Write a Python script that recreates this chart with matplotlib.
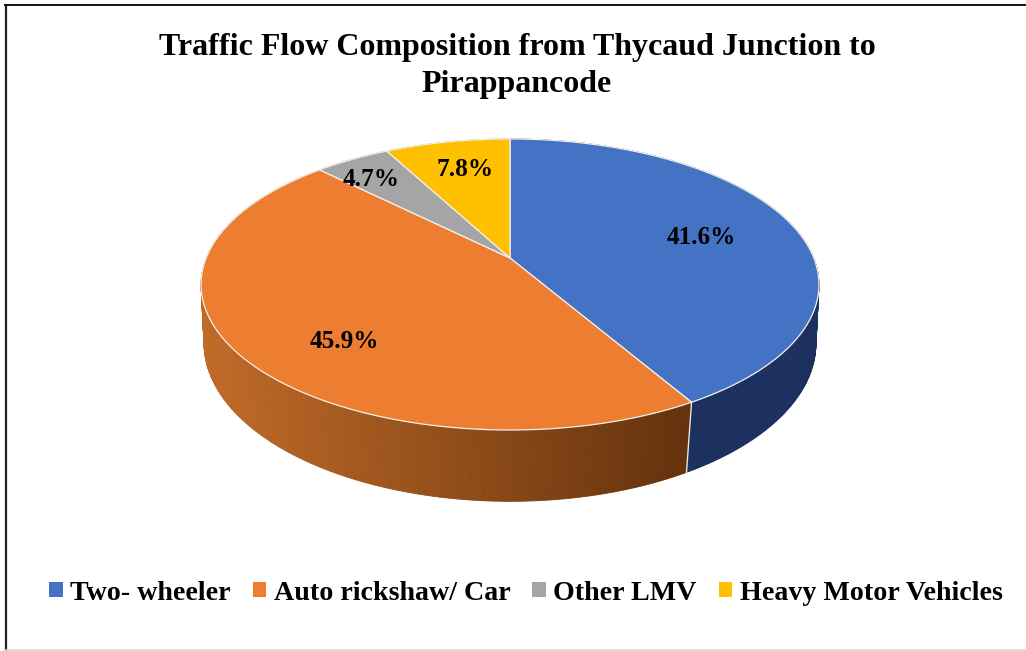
import numpy as np
import matplotlib
matplotlib.use("Agg")
import matplotlib.pyplot as plt
from matplotlib.patches import Patch

title = "Traffic Flow Composition from Thycaud Junction to\nPirappancode"
categories = ["Two- wheeler", "Auto rickshaw/ Car", "Other LMV", "Heavy Motor Vehicles"]
shares = [41.6, 45.9, 4.7, 7.8]
colors = ["#4472C4", "#ED7D31", "#A5A5A5", "#FFC000"]
wall_left = ["#1C3060", "#C06A28", "#6A6A6A", "#A07800"]
wall_right = ["#1C3060", "#63320C", "#6A6A6A", "#A07800"]
label_pos = [(701, 238), (344, 342), (371, 179), (465, 169)]

plt.rcParams["font.family"] = ["Liberation Serif", "DejaVu Serif"]

W, H = 1026, 651
fig = plt.figure(figsize=(W / 100, H / 100), dpi=100)
ax = fig.add_axes([0, 0, 1, 1])
ax.set_xlim(0, W)
ax.set_ylim(H, 0)
ax.axis("off")


def project(theta, cy=258.0, a=303.8, b=140.7, k=0.182):
    # circle on a tilted plane -> screen, theta clockwise from 12 o'clock
    u = np.sin(theta)
    v = np.cos(theta)
    d = 1 + k * v
    return 510 + a * u / d, cy - b * v / d


def project_base(theta):
    return project(theta, cy=318.0, a=302.0, b=154.0, k=0.16)


edges = np.radians(np.concatenate([[0], np.cumsum(shares)]) * 3.6)

# side wall first, the top covers whatever faces away
for i in range(len(shares)):
    th = np.linspace(edges[i], edges[i + 1], max(int(shares[i] * 6), 8))
    c0 = np.array(matplotlib.colors.to_rgb(wall_left[i]))
    c1 = np.array(matplotlib.colors.to_rgb(wall_right[i]))
    for a, b in zip(th[:-1], th[1:]):
        xt, yt = project(np.array([a, b]))
        xb, yb = project_base(np.array([b, a]))
        t = np.clip((xt.mean() - 205) / 485, 0, 1)
        col = c0 * (1 - t) + c1 * t
        ax.fill(np.r_[xt, xb], np.r_[yt, yb], color=col, lw=0.6, zorder=2)

# white seam down the front wall between the two big slices
xs, ys = project(edges[1])
xe, ye = project_base(edges[1])
ax.plot([xs, xe], [ys, ye], color="#E8E4D8", lw=1.0, zorder=3)

# top face
for i in range(len(shares)):
    th = np.linspace(edges[i], edges[i + 1], 120)
    x, y = project(th)
    ax.fill(np.r_[510, x], np.r_[258, y], facecolor=colors[i],
            edgecolor="#F4F0EA", lw=0.9, zorder=4)

for v, (x, y) in zip(shares, label_pos):
    ax.text(x, y, f"{v:.1f}%", ha="center", va="center", fontsize=18.2,
            fontweight="bold", color="black", zorder=5)

ax.text(517, 66, title, ha="center", va="center", fontsize=23,
        fontweight="bold", color="black", linespacing=1.33)

handles = [Patch(facecolor=c, edgecolor="none") for c in colors]
ax.legend(handles, categories, loc="center", bbox_to_anchor=(526 / W, 1 - 593 / H),
          ncol=4, frameon=False, prop={"weight": "bold", "size": 20.2},
          handlelength=0.47, handleheight=0.47, handletextpad=0.28,
          columnspacing=0.78, borderpad=0, borderaxespad=0)

# chart frame
ax.plot([5.5, 5.5], [5, H], color="#222222", lw=1.6, clip_on=False)
ax.plot([5, W], [5, 5], color="#111111", lw=1.4, clip_on=False)
ax.plot([5, W], [650, 650], color="#D8D8D8", lw=1.2, clip_on=False)

fig.savefig("out.png", dpi=100)
